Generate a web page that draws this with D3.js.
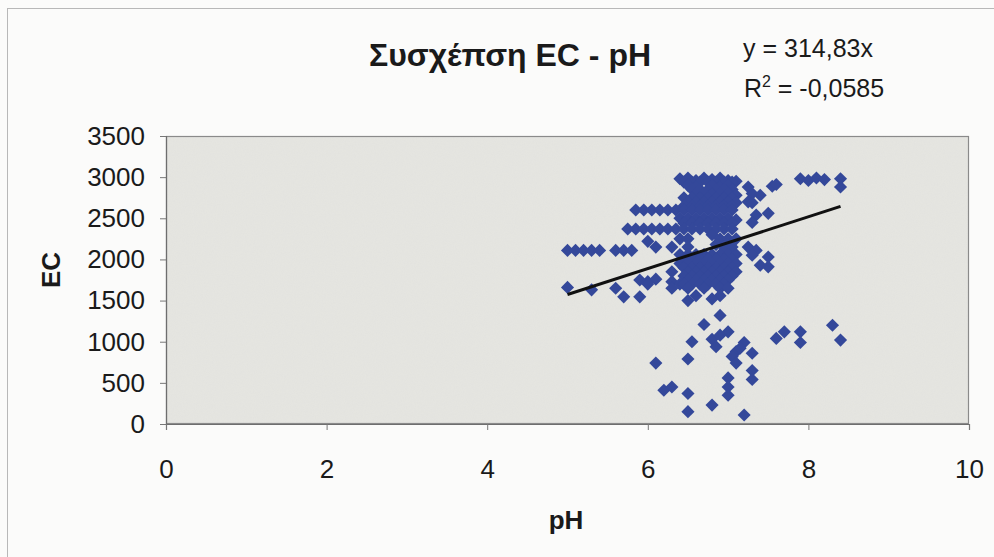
<!DOCTYPE html>
<html>
<head>
<meta charset="utf-8">
<script src="https://cdn.jsdelivr.net/npm/d3@7"></script>
<style>
  html, body { margin: 0; padding: 0; background: #fbfbfa; }
  svg { display: block; }
  text { font-family: "Liberation Sans", Arial, sans-serif; fill: #1a1a1a; }
</style>
</head>
<body>
<svg id="chart" width="994" height="557"></svg>
<script>
// Tick values for both axes
const xTicks = [0, 2, 4, 6, 8, 10];
const yTicks = [0, 500, 1000, 1500, 2000, 2500, 3000, 3500];

// Measurements in the upper band (EC ≥ 1500), grouped by EC level
const phUpper = [
  6.4, 6.5, 6.6, 6.7, 6.8, 6.9, 7.0, 7.1,
  6.45, 6.55, 6.65, 6.75, 6.85, 6.95, 7.05,
  6.5, 6.6, 6.8, 6.9, 7.0,
  6.55, 6.65, 6.75, 6.85, 6.95, 7.05,
  6.6, 6.7, 6.8, 6.9, 7.0, 7.1,
  6.45, 6.55, 6.65, 6.75, 6.85, 6.95, 7.05,
  6.5, 6.6, 6.7, 6.8, 6.9, 7.0, 7.1,
  6.45, 6.55, 6.65, 6.75, 6.85, 6.95, 7.05,
  5.85, 5.95, 6.05, 6.15, 6.25, 6.35, 6.45, 6.55, 6.65, 6.75, 6.85, 6.95, 7.05,
  6.4, 6.5, 6.6, 6.7, 6.8, 6.9, 7.0, 7.1,
  6.45, 6.55, 6.65, 6.75, 6.85, 6.95, 7.05,
  5.75, 5.85, 5.95, 6.05, 6.15, 6.25, 6.35, 6.45, 6.55, 6.65, 6.75, 6.85, 6.95, 7.05,
  6.0, 6.4, 6.5, 6.8, 6.9, 7.0, 7.1,
  6.1, 6.3, 6.5, 6.85, 6.95, 7.05,
  5.0, 5.1, 5.2, 5.3, 5.4, 5.6, 5.7, 5.8,
  6.4, 6.5, 6.6, 6.7, 6.8, 6.9, 7.0, 7.1,
  6.45, 6.55, 6.65, 6.75, 6.85, 6.95, 7.05,
  6.4, 6.5, 6.6, 6.7, 6.8, 6.9, 7.0, 7.1,
  6.45, 6.55, 6.65, 6.75, 6.85, 6.95, 7.05,
  6.3, 6.5, 6.6, 6.7, 6.8, 6.9, 7.0, 7.1,
  6.45, 6.55, 6.65, 6.75, 6.85, 6.95, 7.05,
  5.9, 6.0, 6.1, 6.3, 6.4, 6.5, 6.6, 6.7, 6.8, 6.9, 7.0,
  6.45, 6.55, 6.65, 6.75, 6.85, 6.95,
  5.0, 5.3, 5.6, 6.0, 6.3, 6.5, 6.7, 6.9, 7.0,
  5.7, 5.9, 6.6, 6.9, 6.5, 6.8,
  7.25, 7.3, 7.4, 7.25, 7.3, 7.5, 7.35, 7.3,
  7.55, 7.6, 7.9, 8.0, 8.1, 8.2, 8.4, 8.4,
  7.25, 7.35, 7.5, 7.5, 7.4, 7.3
];
const ecUpper = [
  2980, 2990, 2960, 2990, 2970, 2990, 2960, 2950,
  2940, 2940, 2940, 2940, 2940, 2940, 2940,
  2900, 2880, 2900, 2880, 2900,
  2850, 2850, 2850, 2850, 2850, 2850,
  2800, 2800, 2790, 2800, 2800, 2780,
  2750, 2750, 2750, 2750, 2750, 2750, 2750,
  2700, 2700, 2700, 2700, 2700, 2700, 2690,
  2650, 2650, 2650, 2650, 2650, 2650, 2650,
  2600, 2600, 2600, 2600, 2600, 2600, 2600, 2600, 2600, 2600, 2600, 2600, 2600,
  2500, 2500, 2500, 2500, 2500, 2500, 2500, 2480,
  2440, 2440, 2440, 2440, 2440, 2440, 2440,
  2370, 2370, 2370, 2370, 2370, 2370, 2370, 2370, 2370, 2370, 2370, 2370, 2370, 2370,
  2220, 2250, 2250, 2300, 2250, 2250, 2250,
  2150, 2150, 2150, 2180, 2150, 2150,
  2110, 2110, 2110, 2110, 2110, 2110, 2110, 2110,
  2060, 2060, 2060, 2060, 2060, 2060, 2060, 2060,
  2000, 2000, 2000, 2000, 2000, 2000, 2000,
  1950, 1950, 1950, 1950, 1950, 1950, 1950, 1950,
  1900, 1900, 1900, 1900, 1900, 1900, 1900,
  1850, 1850, 1850, 1850, 1850, 1850, 1850, 1850,
  1800, 1800, 1800, 1800, 1800, 1800, 1800,
  1750, 1730, 1760, 1730, 1700, 1750, 1750, 1750, 1750, 1750, 1750,
  1700, 1700, 1700, 1700, 1700, 1700,
  1660, 1630, 1650, 1700, 1650, 1650, 1650, 1650, 1650,
  1545, 1545, 1560, 1560, 1500, 1520,
  2880, 2800, 2780, 2700, 2690, 2560, 2540, 2450,
  2890, 2910, 2980, 2960, 2990, 2970, 2980, 2880,
  2150, 2110, 2030, 1910, 1930, 2050
];

// Measurements in the lower band (EC < 1500)
const phLower = [
  6.9, 6.7, 7.0, 6.55, 6.8, 6.85, 6.9, 7.2, 7.1, 7.3, 7.05, 7.15,
  6.5, 6.1, 7.1, 7.0, 7.3, 7.3, 7.0, 7.0, 6.2, 6.3, 6.5, 6.8, 6.5, 7.2,
  7.6, 7.7, 7.9, 7.9, 8.3, 8.4
];
const ecLower = [
  1320, 1210, 1120, 1000, 1030, 940, 1080, 990, 880, 860, 820, 920,
  790, 740, 740, 560, 650, 540, 450, 350, 410, 450, 370, 230, 150, 110,
  1040, 1120, 1120, 990, 1200, 1020
];

// Linear trend through the origin, drawn over the observed pH span
const trendSlope = 314.83;
const trendR2 = -0.0585;
const trendRange = [5.0, 8.4];

const titleText = "Συσχέπση EC - pH";
const xLabel = "pH";
const yLabel = "EC";

const svg = d3.select("#chart");
const plot = { left: 166, right: 969, top: 136, bottom: 424 };

const x = d3.scaleLinear().domain([0, 10]).range([plot.left, plot.right]);
const y = d3.scaleLinear().domain([0, 3500]).range([plot.bottom, plot.top]);

// grain for the plot area fill
const defs = svg.append("defs");
const grain = defs.append("filter").attr("id", "grain").attr("x", 0).attr("y", 0).attr("width", 1).attr("height", 1);
grain.append("feTurbulence").attr("type", "fractalNoise").attr("baseFrequency", 0.9).attr("numOctaves", 2).attr("seed", 4).attr("result", "noise");
grain.append("feColorMatrix").attr("in", "noise").attr("type", "matrix")
  .attr("values", "0 0 0 0 0.45  0 0 0 0 0.45  0 0 0 0 0.43  0 0 0 0.08 0").attr("result", "tint");
grain.append("feComposite").attr("in", "tint").attr("in2", "SourceGraphic").attr("operator", "in").attr("result", "tinted");
grain.append("feMerge").selectAll("feMergeNode").data(["SourceGraphic", "tinted"]).join("feMergeNode").attr("in", d => d);

// outer chart frame
svg.append("rect").attr("x", 7.5).attr("y", 8.5).attr("width", 1000).attr("height", 600)
  .attr("fill", "none").attr("stroke", "#b8b8b8").attr("stroke-width", 1);

// plot area
svg.append("rect")
  .attr("x", plot.left).attr("y", plot.top)
  .attr("width", plot.right - plot.left).attr("height", plot.bottom - plot.top)
  .attr("fill", "#e6e6e2").attr("filter", "url(#grain)");
svg.append("rect")
  .attr("x", plot.left + 0.5).attr("y", plot.top + 0.5)
  .attr("width", plot.right - plot.left - 1).attr("height", plot.bottom - plot.top - 1)
  .attr("fill", "none").attr("stroke", "#8a8a8a").attr("stroke-width", 1.2);

// axes
const axisFont = 26;
const yAxis = svg.append("g").attr("transform", `translate(${plot.left},0)`)
  .call(d3.axisLeft(y).tickValues(yTicks).tickSize(6).tickPadding(15).tickFormat(d3.format("d")));
const xAxis = svg.append("g").attr("transform", `translate(0,${plot.bottom})`)
  .call(d3.axisBottom(x).tickValues(xTicks).tickSize(6).tickPadding(30).tickFormat(d3.format("d")));
[xAxis, yAxis].forEach(g => {
  g.select(".domain").attr("stroke", "#6e6e6e").attr("stroke-width", 1.2);
  g.selectAll(".tick line").attr("stroke", "#777");
  g.selectAll(".tick text").attr("font-size", axisFont).attr("fill", "#1a1a1a")
    .style("font-family", "'Liberation Sans', Arial, sans-serif");
});

// data markers
const points = phUpper.map((p, i) => ({ ph: p, ec: ecUpper[i] }))
  .concat(phLower.map((p, i) => ({ ph: p, ec: ecLower[i] })));
const diamond = d3.symbol().type(d3.symbolSquare).size(86);
svg.append("g").selectAll("path").data(points).join("path")
  .attr("d", diamond)
  .attr("transform", d => `translate(${x(d.ph)},${y(d.ec)}) rotate(45)`)
  .attr("fill", "#34489a");

// trend line
svg.append("line")
  .attr("x1", x(trendRange[0])).attr("y1", y(trendSlope * trendRange[0]))
  .attr("x2", x(trendRange[1])).attr("y2", y(trendSlope * trendRange[1]))
  .attr("stroke", "#111").attr("stroke-width", 3);

// title and labels
svg.append("text").attr("x", 510).attr("y", 66).attr("text-anchor", "middle")
  .attr("font-size", 32).attr("font-weight", "bold").text(titleText);

const fmt = v => String(v).replace(".", ",");
svg.append("text").attr("x", 808).attr("y", 57).attr("text-anchor", "middle")
  .attr("font-size", 25).text(`y = ${fmt(trendSlope)}x`);
const r2 = svg.append("text").attr("x", 814).attr("y", 97).attr("text-anchor", "middle").attr("font-size", 25);
r2.append("tspan").text("R");
r2.append("tspan").attr("dy", -10).attr("font-size", 16).text("2");
r2.append("tspan").attr("dy", 10).text(` = ${fmt(trendR2)}`);

svg.append("text").attr("x", 566).attr("y", 529).attr("text-anchor", "middle")
  .attr("font-size", 26).attr("font-weight", "bold").text(xLabel);
svg.append("text").attr("transform", "translate(60,270) rotate(-90)").attr("text-anchor", "middle")
  .attr("font-size", 26).attr("font-weight", "bold").text(yLabel);
</script>
</body>
</html>
